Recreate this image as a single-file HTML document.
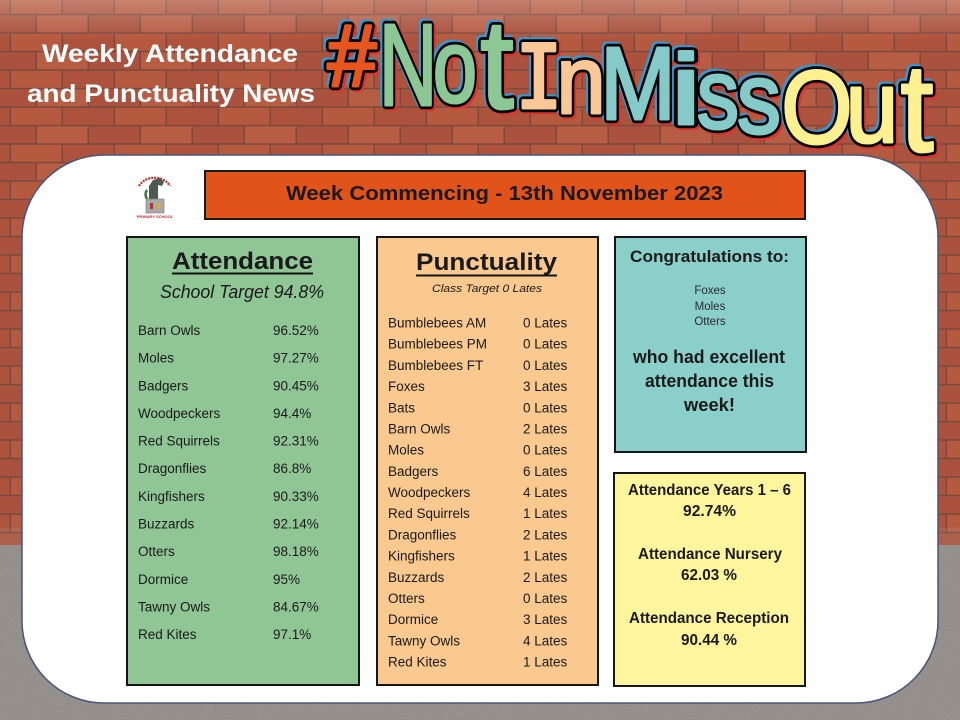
<!DOCTYPE html>
<html><head><meta charset="utf-8"><style>
html,body{margin:0;padding:0;width:960px;height:720px;overflow:hidden;background:#a8513e}
svg{display:block}
.t{font-family:"Liberation Sans",sans-serif;fill:#1a1a1a}
.B text{font-family:"Liberation Sans",sans-serif;fill:#000;stroke:#000;stroke-width:8.5;stroke-linejoin:round;text-anchor:middle}
.F text{font-family:"Liberation Sans",sans-serif;stroke-width:3;stroke-linejoin:round;text-anchor:middle}
.sh{filter:drop-shadow(-2px -2px 0 #2f9bd6) drop-shadow(2px 2px 0 #d9352e)}
</style></head><body>
<svg width="960" height="720" viewBox="0 0 960 720" xmlns="http://www.w3.org/2000/svg">
<defs>
 <pattern id="brick" patternUnits="userSpaceOnUse" width="104" height="37" x="10" y="-4">
  <rect width="104" height="37" fill="#7a4a3f"/>
  <rect x="1" y="0.8" width="50.5" height="17" fill="#b5593f"/>
  <rect x="53" y="0.8" width="50.5" height="17" fill="#ad533d"/>
  <rect x="-25" y="19.3" width="50.5" height="17" fill="#aa523e"/>
  <rect x="27" y="19.3" width="50.5" height="17" fill="#b75d44"/>
  <rect x="79" y="19.3" width="50.5" height="17" fill="#aa523e"/>
 </pattern>
 <filter id="noise"><feTurbulence type="fractalNoise" baseFrequency="0.9" numOctaves="2" seed="3"/><feColorMatrix type="saturate" values="0"/></filter>
 <linearGradient id="haze" x1="0" y1="0" x2="0" y2="1">
  <stop offset="0" stop-color="#fff" stop-opacity="0.25"/><stop offset="1" stop-color="#fff" stop-opacity="0"/>
 </linearGradient>
</defs>

<!-- background -->
<rect width="960" height="720" fill="url(#brick)"/>
<rect width="960" height="40" fill="url(#haze)"/>
<rect y="545" width="960" height="175" fill="#8f8a86"/>
<rect y="545" width="960" height="175" filter="url(#noise)" opacity="0.25"/>

<!-- left title -->
<text x="42" y="62" font-family="Liberation Sans, sans-serif" font-weight="bold" font-size="25" fill="#fff" textLength="256" lengthAdjust="spacingAndGlyphs">Weekly Attendance</text>
<text x="27" y="102" font-family="Liberation Sans, sans-serif" font-weight="bold" font-size="25" fill="#fff" textLength="288" lengthAdjust="spacingAndGlyphs">and Punctuality News</text>

<!-- big hashtag title -->
<g class="sh">
 <g class="B">
  <text font-size="88" transform="translate(352,86) scale(1,1)">#</text>
  <text font-size="116" transform="translate(408,105) scale(0.7,1)">N</text>
  <text font-size="104" transform="translate(455,102) scale(0.76,1)">o</text>
  <text font-size="126" transform="translate(497,108) scale(0.95,1)">t</text>
  <text font-size="88" style="font-family:'DejaVu Sans Mono',monospace" transform="translate(539,108) scale(0.9,1)">I</text>
  <text font-size="96" transform="translate(581,113) scale(0.92,1)">n</text>
  <text font-size="103" transform="translate(638,119) scale(0.88,1)">M</text>
  <text font-size="100" transform="translate(686,124) scale(1.4,1)">i</text>
  <text font-size="98" transform="translate(718,128) scale(0.86,1)">s</text>
  <text font-size="100" transform="translate(759,133) scale(0.88,1)">s</text>
  <text font-size="104" transform="translate(817,143) scale(0.88,1)">O</text>
  <text font-size="102" transform="translate(872,142) scale(0.93,1)">u</text>
  <text font-size="124" transform="translate(917,151) scale(0.95,1)">t</text>
 </g>
 <g class="F">
  <text font-size="88" fill="#e8561f" stroke="#e8561f" transform="translate(352,86) scale(1,1)">#</text>
  <text font-size="116" fill="#8cc796" stroke="#8cc796" transform="translate(408,105) scale(0.7,1)">N</text>
  <text font-size="104" fill="#8cc796" stroke="#8cc796" transform="translate(455,102) scale(0.76,1)">o</text>
  <text font-size="126" fill="#8cc796" stroke="#8cc796" transform="translate(497,108) scale(0.95,1)">t</text>
  <text font-size="88" fill="#f9c896" stroke="#f9c896" style="font-family:'DejaVu Sans Mono',monospace" transform="translate(539,108) scale(0.9,1)">I</text>
  <text font-size="96" fill="#f9c896" stroke="#f9c896" transform="translate(581,113) scale(0.92,1)">n</text>
  <text font-size="103" fill="#84cac9" stroke="#84cac9" transform="translate(638,119) scale(0.88,1)">M</text>
  <text font-size="100" fill="#84cac9" stroke="#84cac9" transform="translate(686,124) scale(1.4,1)">i</text>
  <text font-size="98" fill="#84cac9" stroke="#84cac9" transform="translate(718,128) scale(0.86,1)">s</text>
  <text font-size="100" fill="#84cac9" stroke="#84cac9" transform="translate(759,133) scale(0.88,1)">s</text>
  <text font-size="104" fill="#fcf091" stroke="#fcf091" transform="translate(817,143) scale(0.88,1)">O</text>
  <text font-size="102" fill="#fcf091" stroke="#fcf091" transform="translate(872,142) scale(0.93,1)">u</text>
  <text font-size="124" fill="#fcf091" stroke="#fcf091" transform="translate(917,151) scale(0.95,1)">t</text>
 </g>
</g>

<!-- white panel -->
<rect x="22" y="155" width="916" height="548" rx="82" ry="82" fill="#fff" stroke="#4a5678" stroke-width="1.5"/>

<!-- logo -->
<g>
 <path d="M139 186 A17 14 0 0 1 170 186" fill="none" stroke="#c8282a" stroke-width="2.2" stroke-dasharray="2 1"/>
 <polygon points="149,186 153,180 160,178 164,182 162,186 158,185 158,200 149,200" fill="#4d5a50"/>
 <path d="M147 190 q-3 4 0 9" stroke="#2e7a3a" stroke-width="2.5" fill="none"/>
 <rect x="146" y="199" width="18" height="14" fill="#a9a9a9" stroke="#777" stroke-width="0.6"/>
 <rect x="150" y="203" width="3" height="6" fill="#c8282a"/>
 <rect x="157" y="203" width="3" height="6" fill="#d4b03a"/>
 <text x="155" y="218" font-family="Liberation Sans, sans-serif" font-size="4" font-weight="bold" fill="#c8282a" text-anchor="middle">PRIMARY SCHOOL</text>
</g>

<!-- header -->
<rect x="205" y="171" width="600" height="48" fill="#e2531a" stroke="#1a1a1a" stroke-width="2"/>
<text class="t" x="286" y="200" font-weight="bold" font-size="20.5" textLength="437" lengthAdjust="spacingAndGlyphs">Week Commencing - 13th November 2023</text>

<!-- attendance box -->
<rect x="127" y="237" width="232" height="448" fill="#90c696" stroke="#151515" stroke-width="2"/>
<text class="t" x="172" y="269" font-weight="bold" font-size="24" textLength="141" lengthAdjust="spacingAndGlyphs">Attendance</text>
<line x1="172" y1="273.5" x2="313" y2="273.5" stroke="#111" stroke-width="2"/>
<text class="t" x="160" y="298" font-style="italic" font-size="18" textLength="164" lengthAdjust="spacingAndGlyphs">School Target 94.8%</text>
<g class="t" font-size="13.5">
 <text x="138" y="335">Barn Owls</text><text x="273" y="335">96.52%</text>
 <text x="138" y="362.6">Moles</text><text x="273" y="362.6">97.27%</text>
 <text x="138" y="390.3">Badgers</text><text x="273" y="390.3">90.45%</text>
 <text x="138" y="417.9">Woodpeckers</text><text x="273" y="417.9">94.4%</text>
 <text x="138" y="445.6">Red Squirrels</text><text x="273" y="445.6">92.31%</text>
 <text x="138" y="473.2">Dragonflies</text><text x="273" y="473.2">86.8%</text>
 <text x="138" y="500.8">Kingfishers</text><text x="273" y="500.8">90.33%</text>
 <text x="138" y="528.5">Buzzards</text><text x="273" y="528.5">92.14%</text>
 <text x="138" y="556.1">Otters</text><text x="273" y="556.1">98.18%</text>
 <text x="138" y="583.8">Dormice</text><text x="273" y="583.8">95%</text>
 <text x="138" y="611.4">Tawny Owls</text><text x="273" y="611.4">84.67%</text>
 <text x="138" y="639">Red Kites</text><text x="273" y="639">97.1%</text>
</g>

<!-- punctuality box -->
<rect x="377" y="237" width="221" height="448" fill="#f9c98f" stroke="#151515" stroke-width="2"/>
<text class="t" x="416" y="270" font-weight="bold" font-size="24" textLength="141" lengthAdjust="spacingAndGlyphs">Punctuality</text>
<line x1="416" y1="275.5" x2="557" y2="275.5" stroke="#111" stroke-width="2"/>
<text class="t" x="432" y="292" font-style="italic" font-size="11" textLength="110" lengthAdjust="spacingAndGlyphs">Class Target 0 Lates</text>
<g class="t" font-size="13.5">
 <text x="388" y="327.5">Bumblebees AM</text><text x="523" y="327.5">0 Lates</text>
 <text x="388" y="348.7">Bumblebees PM</text><text x="523" y="348.7">0 Lates</text>
 <text x="388" y="369.9">Bumblebees FT</text><text x="523" y="369.9">0 Lates</text>
 <text x="388" y="391.1">Foxes</text><text x="523" y="391.1">3 Lates</text>
 <text x="388" y="412.3">Bats</text><text x="523" y="412.3">0 Lates</text>
 <text x="388" y="433.5">Barn Owls</text><text x="523" y="433.5">2 Lates</text>
 <text x="388" y="454.6">Moles</text><text x="523" y="454.6">0 Lates</text>
 <text x="388" y="475.8">Badgers</text><text x="523" y="475.8">6 Lates</text>
 <text x="388" y="497">Woodpeckers</text><text x="523" y="497">4 Lates</text>
 <text x="388" y="518.2">Red Squirrels</text><text x="523" y="518.2">1 Lates</text>
 <text x="388" y="539.4">Dragonflies</text><text x="523" y="539.4">2 Lates</text>
 <text x="388" y="560.6">Kingfishers</text><text x="523" y="560.6">1 Lates</text>
 <text x="388" y="581.8">Buzzards</text><text x="523" y="581.8">2 Lates</text>
 <text x="388" y="603">Otters</text><text x="523" y="603">0 Lates</text>
 <text x="388" y="624.2">Dormice</text><text x="523" y="624.2">3 Lates</text>
 <text x="388" y="645.4">Tawny Owls</text><text x="523" y="645.4">4 Lates</text>
 <text x="388" y="666.5">Red Kites</text><text x="523" y="666.5">1 Lates</text>
</g>

<!-- congratulations box -->
<rect x="615" y="237" width="191" height="215" fill="#8bcfcb" stroke="#151515" stroke-width="2"/>
<text class="t" x="630" y="262" font-weight="bold" font-size="17" textLength="159" lengthAdjust="spacingAndGlyphs">Congratulations to:</text>
<g class="t" font-size="11.5" text-anchor="middle" style="fill:#2a2a2a">
 <text x="710" y="294">Foxes</text>
 <text x="710" y="310">Moles</text>
 <text x="710" y="325">Otters</text>
</g>
<text class="t" x="633" y="363" font-weight="bold" font-size="18" textLength="152" lengthAdjust="spacingAndGlyphs">who had excellent</text>
<text class="t" x="645" y="387" font-weight="bold" font-size="18" textLength="129" lengthAdjust="spacingAndGlyphs">attendance this</text>
<text class="t" x="684" y="411" font-weight="bold" font-size="18" textLength="51" lengthAdjust="spacingAndGlyphs">week!</text>

<!-- totals box -->
<rect x="614" y="473" width="191" height="213" fill="#fff59d" stroke="#151515" stroke-width="2"/>
<g class="t" font-weight="bold" font-size="15.5">
 <text x="628" y="495" textLength="163" lengthAdjust="spacingAndGlyphs">Attendance Years 1 – 6</text>
 <text x="683" y="516" textLength="53" lengthAdjust="spacingAndGlyphs">92.74%</text>
 <text x="638" y="559" textLength="144" lengthAdjust="spacingAndGlyphs">Attendance Nursery</text>
 <text x="681" y="580" textLength="56" lengthAdjust="spacingAndGlyphs">62.03 %</text>
 <text x="629" y="623" textLength="160" lengthAdjust="spacingAndGlyphs">Attendance Reception</text>
 <text x="681" y="645" textLength="56" lengthAdjust="spacingAndGlyphs">90.44 %</text>
</g>
</svg>
</body></html>
